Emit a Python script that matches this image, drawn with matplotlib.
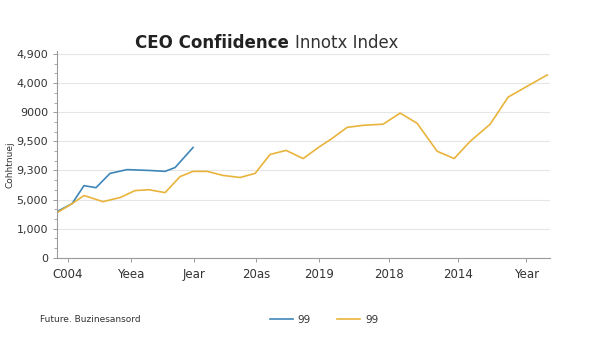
import numpy as np
import matplotlib.pyplot as plt
from matplotlib.ticker import AutoMinorLocator

# data (x in arbitrary time units, y in tick-index units)
yellow_x = [0, 1.5, 2.7, 4.6, 6.3, 7.8, 9.2, 10.8, 12.3, 13.6, 15.0, 16.6, 18.3, 19.8, 21.3,
            22.9, 24.6, 26.3, 27.5, 29.0, 30.6, 32.6, 34.3, 36.0, 38.0, 39.7, 41.3, 43.3, 45.1, 49.0]
yellow_y = [1.55, 1.86, 2.14, 1.93, 2.07, 2.31, 2.34, 2.24, 2.79, 2.97, 2.97, 2.83, 2.76, 2.90, 3.55,
            3.69, 3.41, 3.83, 4.10, 4.48, 4.55, 4.59, 4.97, 4.62, 3.66, 3.41, 4.00, 4.59, 5.52, 6.28]
blue_x = [0, 1.5, 2.7, 3.9, 5.3, 7.0, 9.3, 10.8, 11.8, 13.6]
blue_y = [1.59, 1.86, 2.48, 2.41, 2.90, 3.03, 3.00, 2.97, 3.10, 3.79]

ytick_pos = [0, 1, 2, 3, 4, 5, 6, 7]
ytick_labels = ['0', '1,000', '5,000', '9,300', '9,500', '9000', '4,000', '4,900']
xtick_pos = [1.1, 7.4, 13.7, 19.9, 26.2, 33.2, 40.1, 46.9]
xtick_labels = ['C004', 'Yeea', 'Jear', '20as', '2019', '2018', '2014', 'Year']

blue = '#3f86b8'
yellow = '#e9b43c'

fig = plt.figure(figsize=(6, 3.38), dpi=100)
ax = fig.add_axes([0.095, 0.237, 0.822, 0.612])

ax.plot(blue_x, blue_y, color=blue, lw=1.2, label='99')
ax.plot(yellow_x, yellow_y, color=yellow, lw=1.2, label='99')

ax.set_xlim(0, 49.3)
ax.set_ylim(0, 7.1)
ax.set_yticks(ytick_pos)
ax.set_yticklabels(ytick_labels)
ax.set_xticks(xtick_pos)
ax.set_xticklabels(xtick_labels)
ax.yaxis.set_minor_locator(AutoMinorLocator(3))
ax.grid(axis='y', color='#e6e6e6', lw=0.8)
ax.set_axisbelow(True)

for s in ['top', 'right']:
    ax.spines[s].set_visible(False)
for s in ['left', 'bottom']:
    ax.spines[s].set_color('#9a9a9a')
    ax.spines[s].set_linewidth(0.8)
ax.tick_params(axis='both', colors='#9a9a9a', labelcolor='#333333', labelsize=8, length=3, width=0.7)
ax.tick_params(axis='y', which='minor', length=2, colors='#9a9a9a')
ax.tick_params(axis='x', pad=4, labelsize=8.5)

ax.set_ylabel('Cohhtnuej', fontsize=6.5, color='#333333')
ax.yaxis.set_label_coords(-0.087, 0.45)

# title: bold part + regular part placed right after it
t1 = fig.text(0.225, 0.872, 'CEO Confiidence', fontsize=12, fontweight='bold',
              color='#222222', ha='left', va='center')
fig.canvas.draw()
bb = t1.get_window_extent().transformed(fig.transFigure.inverted())
fig.text(bb.x1 + 0.01, 0.872, 'Innotx Index', fontsize=12, color='#333333', ha='left', va='center')

fig.text(0.067, 0.04, 'Future. Buzinesansord', fontsize=6.5, color='#333333', va='bottom')

leg = fig.legend(loc='lower center', bbox_to_anchor=(0.54, 0.012), ncol=2, frameon=False,
                 fontsize=7.5, handlelength=2.2, columnspacing=2.5, handletextpad=0.5)
for t in leg.get_texts():
    t.set_color('#333333')

fig.savefig('out.png', dpi=100, facecolor='white')
